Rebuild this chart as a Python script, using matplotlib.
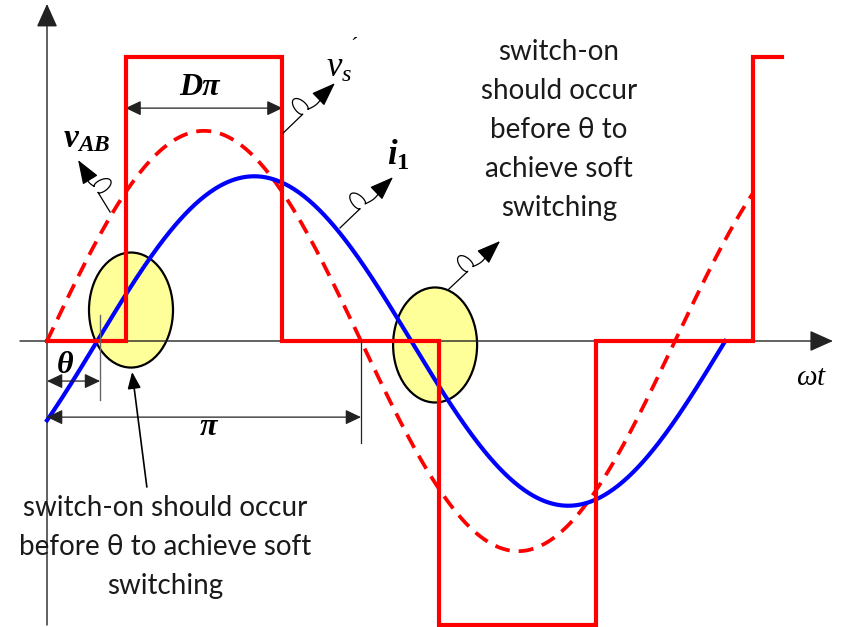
import numpy as np
import matplotlib.pyplot as plt
from matplotlib.patches import Ellipse

plt.rcParams['mathtext.fontset'] = 'custom'
plt.rcParams['mathtext.it'] = 'Liberation Serif:italic'
plt.rcParams['mathtext.rm'] = 'Liberation Serif'
plt.rcParams['mathtext.bf'] = 'Liberation Serif:bold'
plt.rcParams['mathtext.bfit'] = 'Liberation Serif:bold:italic'

# omega*t is given in units of pi, amplitudes relative to the square wave
sq_edges = [0, 0.25, 0.75, 1.25, 1.75, 2.25, 2.34]
sq_levels = [0, 1, 0, -1, 0, 1]
vab_amp = 0.74
vab_end = 2.25
i1_amp = 0.58
i1_theta = 0.16
i1_end = 2.16
soft_centers = [(0.2675, 0.109), (1.236, -0.014)]
soft_w, soft_h = 0.2675, 0.405

note = "switch-on\nshould occur\nbefore \u03b8 to\nachieve soft\nswitching"
note2 = "switch-on should occur\nbefore \u03b8 to achieve soft\nswitching"

fig = plt.figure(figsize=(8.41, 6.27), dpi=100)
ax = fig.add_axes([0, 0, 1, 1])
ax.set_xlim(-0.1497, 2.5287)
ax.set_ylim(-1.007, 1.2007)
ax.axis('off')

# axes with arrows
ax.annotate('', xy=(2.503, 0), xytext=(-0.086, 0),
            arrowprops=dict(arrowstyle='-|>,head_length=1.45,head_width=0.65',
                            color='#222222', lw=1, shrinkA=0, shrinkB=0))
ax.annotate('', xy=(0, 1.187), xytext=(0, -1.0),
            arrowprops=dict(arrowstyle='-|>,head_length=1.45,head_width=0.65',
                            color='#222222', lw=1, shrinkA=0, shrinkB=0))

# soft switching regions
for c in soft_centers:
    ax.add_patch(Ellipse(c, soft_w, soft_h, facecolor='#ffff99',
                         edgecolor='black', lw=1.6, zorder=1))

# square wave v_s'
ax.plot(sq_edges, sq_levels + [sq_levels[-1]], drawstyle='steps-post',
        color='red', lw=3, zorder=4, solid_joinstyle='miter')

# v_AB fundamental (dashed) and current i_1
wt = np.linspace(0, vab_end, 400)
ax.plot(wt, vab_amp * np.sin(np.pi * wt), color='red', lw=2.7,
        ls=(0, (4.0, 2.4)), zorder=3)
wt = np.linspace(0, i1_end, 400)
ax.plot(wt, i1_amp * np.sin(np.pi * (wt - i1_theta)), color='blue',
        lw=3, zorder=3)

# dimension arrows
dim = dict(arrowstyle='<|-|>,head_length=0.95,head_width=0.45',
           color='#222222', lw=0.9, shrinkA=0, shrinkB=0)
ax.annotate('', xy=(0.75, 0.82), xytext=(0.25, 0.82), arrowprops=dim)
ax.annotate('', xy=(i1_theta + 0.009, -0.141), xytext=(0, -0.141), arrowprops=dim)
ax.annotate('', xy=(1.0, -0.268), xytext=(0, -0.268), arrowprops=dim)
ax.plot([0.169, 0.169], [0.092, -0.208], color='#666666', lw=1, zorder=5)
ax.plot([1.0, 1.0], [0, -0.359], color='#222222', lw=0.9, zorder=5)

serif_b = dict(family='Liberation Serif', style='italic', weight='bold',
               ha='center', va='center')
ax.text(0.487, 0.894, 'D\u03c0', fontsize=23, **serif_b)
ax.text(0.057, -0.085, '\u03b8', fontsize=23, **serif_b)
ax.text(0.513, -0.306, '\u03c0', fontsize=23, **serif_b)
ax.text(0.125, 0.715, r'$\mathbfit{v}_{\mathbfit{AB}}$', fontsize=24,
        ha='center', va='center')
ax.text(1.118, 0.655, r'$\mathbfit{i}_{\mathbf{1}}$', fontsize=25,
        ha='center', va='center')
ax.text(0.93, 0.965, r"$v_{s}$", fontsize=25, ha='center', va='center')
ax.text(0.978, 1.035, "\u00b4", fontsize=16, family='Liberation Serif',
        ha='center', va='center')
ax.text(2.435, -0.127, r'$\omega t$', fontsize=21, ha='center', va='center')


def squiggle(x0, y0, x1, y1, side=1):
    p0 = ax.transData.transform((x0, y0))
    p1 = ax.transData.transform((x1, y1))
    d = p1 - p0
    L = np.hypot(*d)
    e = d / L
    n = np.array([-e[1], e[0]]) * side
    ra, rp, c = 4.0, 8.5, 1.1
    u = np.linspace(0, 2 * np.pi, 80)
    s0 = 0.38 * L
    # after the loop the line waves a little before the arrow
    v = np.linspace(0, 1, 30)[1:]
    s1 = s0 + c * 2 * np.pi
    along = np.concatenate([[0], s0 + c * u - ra * np.sin(u),
                            s1 + v * (L - 16 - s1)])
    perp = np.concatenate([[0], rp * (1 - np.cos(u)),
                           -2.5 * np.sin(np.pi * v)])
    pts = p0 + np.outer(along, e) + np.outer(perp, n)
    pts = ax.transData.inverted().transform(pts)
    ax.plot(pts[:, 0], pts[:, 1], color='black', lw=0.9, zorder=6)
    tail = ax.transData.inverted().transform(p0 + e * (L - 18))
    ax.annotate('', xy=(x1, y1), xytext=tail,
                arrowprops=dict(arrowstyle='-|>,head_length=1.5,head_width=0.55',
                                color='black', lw=0.9, shrinkA=0, shrinkB=0))


squiggle(0.752, 0.732, 0.917, 0.908, side=1)
squiggle(0.201, 0.454, 0.099, 0.637, side=-1)
squiggle(0.933, 0.398, 1.102, 0.577, side=1)
squiggle(1.277, 0.180, 1.443, 0.352, side=1)

# notes
ax.text(1.630, 0.743, note, fontsize=20, family=['Lato', 'DejaVu Sans'],
        color='#1a1a1a', ha='center', va='center', linespacing=1.62)
ax.text(0.376, -0.725, note2, fontsize=20, family=['Lato', 'DejaVu Sans'],
        color='#1a1a1a', ha='center', va='center', linespacing=1.62)
ax.annotate('', xy=(0.271, -0.109), xytext=(0.318, -0.514),
            arrowprops=dict(arrowstyle='-|>,head_length=1.0,head_width=0.4',
                            color='black', lw=1.2, shrinkA=0, shrinkB=0))

fig.savefig('out.png', dpi=100)
